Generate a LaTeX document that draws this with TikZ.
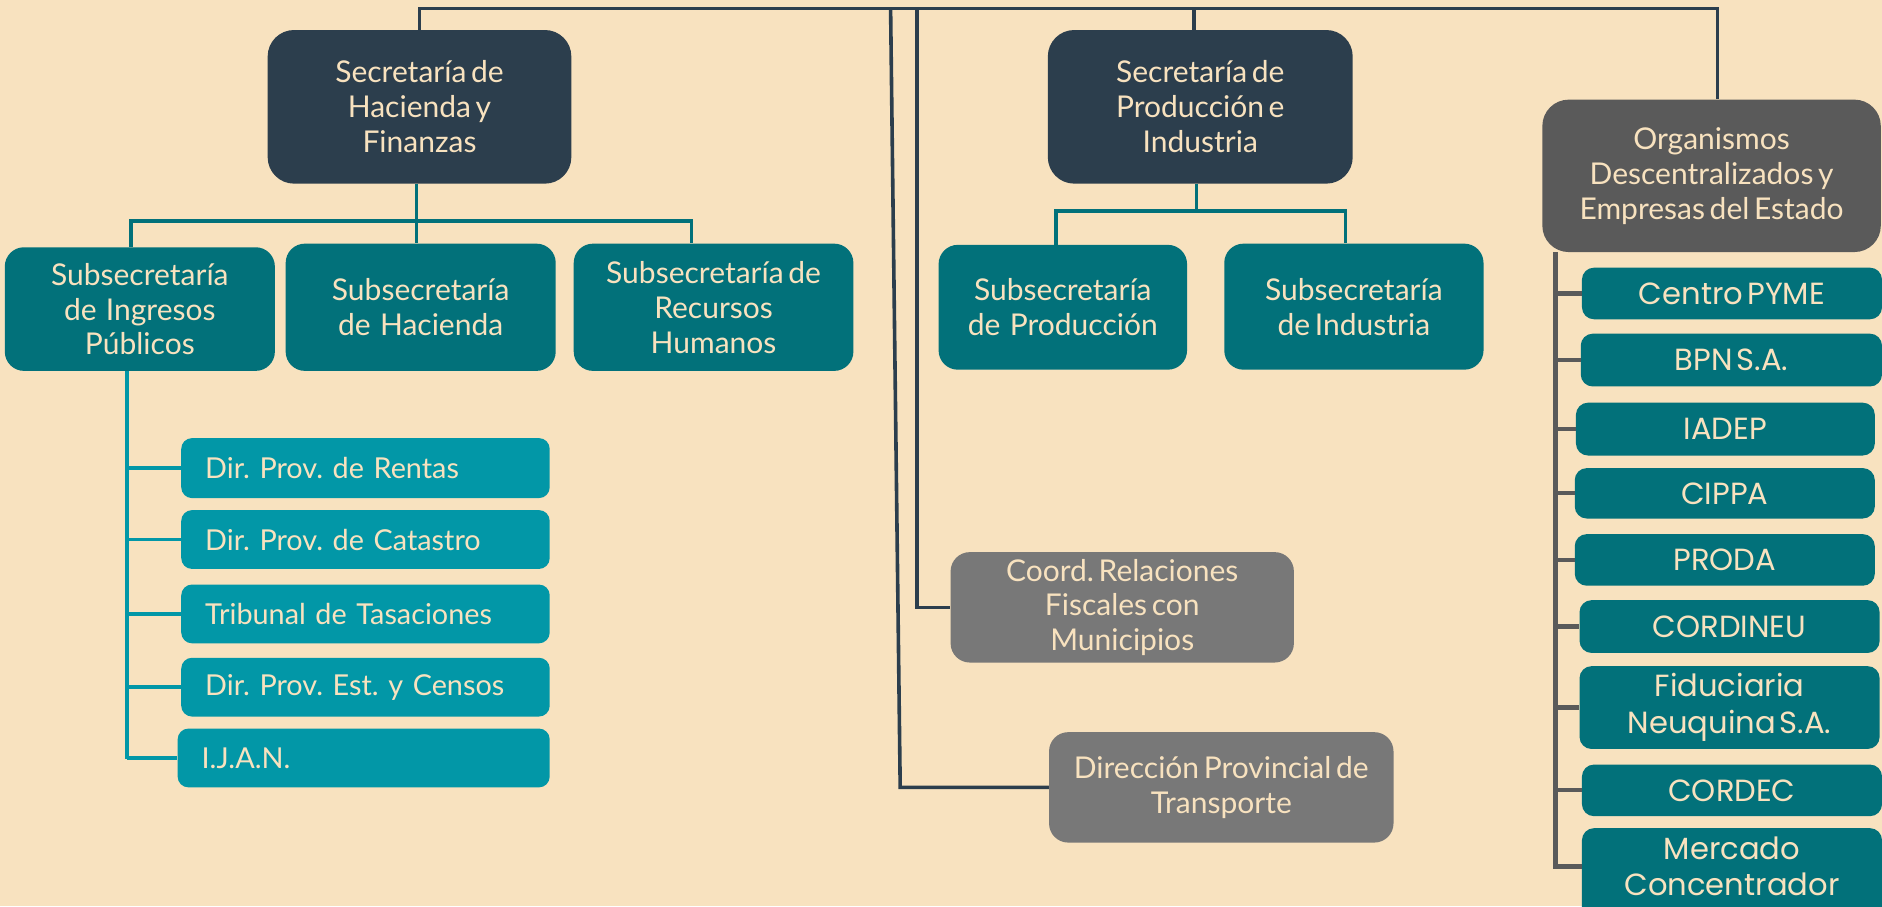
\documentclass[tikz,border=0pt]{standalone}
\usepackage{fontspec}
\setmainfont{Lato}[WordSpace=0.6]
\newfontfamily\popfont{Poppins}[WordSpace=0.5]
\usetikzlibrary{calc}
\definecolor{bg}{HTML}{F8E2BF}
\definecolor{slate}{HTML}{2C3E4D}
\definecolor{dteal}{HTML}{02717A}
\definecolor{lteal}{HTML}{0297A7}
\definecolor{dgray}{HTML}{5A5A5A}
\definecolor{mgray}{HTML}{787878}
\definecolor{cream}{HTML}{F8E2BF}
\frenchspacing
\begin{document}
\begin{tikzpicture}[x=1pt,y=-1pt,
  basebox/.style={inner sep=0pt, text=cream, align=center, font=\fontsize{25}{29}\selectfont},
  secbox/.style={basebox, fill=slate, rounded corners=22pt},
  subbox/.style={basebox, fill=dteal, rounded corners=16pt},
  dirbox/.style={basebox, fill=lteal, rounded corners=9pt, align=left, inner xsep=20pt, font=\fontsize{24}{29}\selectfont},
  graybox/.style={basebox, fill=mgray, rounded corners=16pt},
  orgbox/.style={basebox, fill=dgray, rounded corners=22pt},
  entbox/.style={basebox, fill=dteal, rounded corners=10pt, font=\popfont\fontsize{25.5}{31}\selectfont},
  sline/.style={draw=slate, line width=3pt},
  tline/.style={draw=dteal, line width=3pt},
  lline/.style={draw=lteal, line width=3pt},
  gline/.style={draw=dgray, line width=3.5pt}]
\useasboundingbox (0,0) rectangle (1568,755);
\clip (0,0) rectangle (1568,755);
\fill[bg] (0,0) rectangle (1568,755);

% top level
\node[secbox, minimum width=253pt, minimum height=128pt] (sh) at (349.5,89) {Secretaría de\\Hacienda y\\Finanzas};
\node[secbox, minimum width=254pt, minimum height=128pt] (sp) at (1000,89) {Secretaría de\\Producción e\\Industria};
\node[orgbox, minimum width=282pt, minimum height=127pt] (org) at (1426,146.5) {Organismos\\Descentralizados y\\Empresas del Estado};

% sub-secretariats
\node[subbox, minimum width=225pt, minimum height=103pt] (si) at (116.5,257.5) {Subsecretaría\\de\ \ Ingresos\\Públicos};
\node[subbox, minimum width=225pt, minimum height=106pt] (shac) at (350.5,256) {Subsecretaría\\de\ \ Hacienda};
\node[subbox, minimum width=233pt, minimum height=106pt] (srh) at (594.5,256) {Subsecretaría de\\Recursos\\Humanos};
\node[subbox, minimum width=207pt, minimum height=104pt] (spr) at (885.5,256) {Subsecretaría\\de\ \ Producción};
\node[subbox, minimum width=216pt, minimum height=105pt] (sind) at (1128,255.5) {Subsecretaría\\de Industria};

% direcciones
\node[dirbox, text width=267pt, minimum height=50pt] (ren) at (304.5,390) {Dir. Prov. de Rentas};
\node[dirbox, text width=267pt, minimum height=49pt] (cat) at (304.5,449.5) {Dir. Prov. de Catastro};
\node[dirbox, text width=267pt, minimum height=49pt] (tri) at (304.5,511.5) {Tribunal de Tasaciones};
\node[dirbox, text width=267pt, minimum height=49pt] (cen) at (304.5,572.5) {Dir. Prov. Est. y Censos};
\node[dirbox, text width=270pt, minimum height=49pt] (ijan) at (303,631.5) {I.J.A.N.};

% gray boxes
\node[graybox, minimum width=286pt, minimum height=92pt] (coord) at (935,506) {Coord. Relaciones\\Fiscales con\\Municipios};
\node[graybox, minimum width=287pt, minimum height=92pt] (dir) at (1017.5,656) {Dirección Provincial de\\Transporte};

% entities
\node[entbox, minimum width=250pt, minimum height=43pt] (e1) at (1443,244.5) {Centro PYME};
\node[entbox, minimum width=251pt, minimum height=44pt] (e2) at (1442.5,300) {BPN S.A.};
\node[entbox, minimum width=249pt, minimum height=44pt] (e3) at (1437.5,357.5) {IADEP};
\node[entbox, minimum width=250pt, minimum height=42pt] (e4) at (1437,411) {CIPPA};
\node[entbox, minimum width=250pt, minimum height=43pt] (e5) at (1437,466.5) {PRODA};
\node[entbox, minimum width=250pt, minimum height=44pt] (e6) at (1441,522) {CORDINEU};
\node[entbox, minimum width=250pt, minimum height=69pt] (e7) at (1441,589.5) {Fiduciaria\\Neuquina S.A.};
\node[entbox, minimum width=250pt, minimum height=43pt] (e8) at (1443,658.5) {CORDEC};
\node[entbox, minimum width=250pt, minimum height=80pt] (e9) at (1443,730) {};
\node[basebox, font=\popfont\fontsize{25.5}{30}\selectfont] (e9t) at (1443,722) {Mercado\\Concentrador};

% top connectors
\coordinate (tr) at (1431,7);
\coordinate (c1) at (764,7);
\coordinate (d1) at (742,7);
\coordinate (d2) at (750,656);
\coordinate (pt) at (995,7);
\draw[sline] (sh.north) |- (tr) -- (org.north -| tr);
\draw[sline] (pt) -- (sp.north -| pt);
\draw[sline] (c1) |- (coord.west);
\draw[sline] (d1) -- (d2) -- (dir.west);

% hacienda connectors
\coordinate (hj) at (347,184);
\coordinate (hl) at (109,184);
\coordinate (hr) at (576,184);
\draw[tline] (sh.south -| hj) -- (hj);
\draw[tline] (hl |- si.north) -- (hl) -- (hr) -- (hr |- srh.north);
\draw[tline] (hj) -- (hj |- shac.north);

% produccion connectors
\coordinate (pj) at (997,176);
\coordinate (pl) at (880,176);
\coordinate (pr) at (1121,176);
\draw[tline] (sp.south -| pj) -- (pj);
\draw[tline] (pl |- spr.north) -- (pl) -- (pr) -- (pr |- sind.north);

% ingresos column
\coordinate (lv) at (106,632);
\draw[lline] (si.south -| lv) -- (lv);
\foreach \n in {ren,cat,tri,cen,ijan}{
  \draw[lline] (\n.west -| lv) -- (\n.west);
}

% organismos column
\coordinate (rv) at (1296,722);
\draw[gline] (org.south -| rv) -- (rv) -- (e9.west |- rv);
\foreach \n in {e1,e2,e3,e4,e5,e6,e7,e8}{
  \draw[gline] (\n.west -| rv) -- (\n.west);
}
\end{tikzpicture}
\end{document}
